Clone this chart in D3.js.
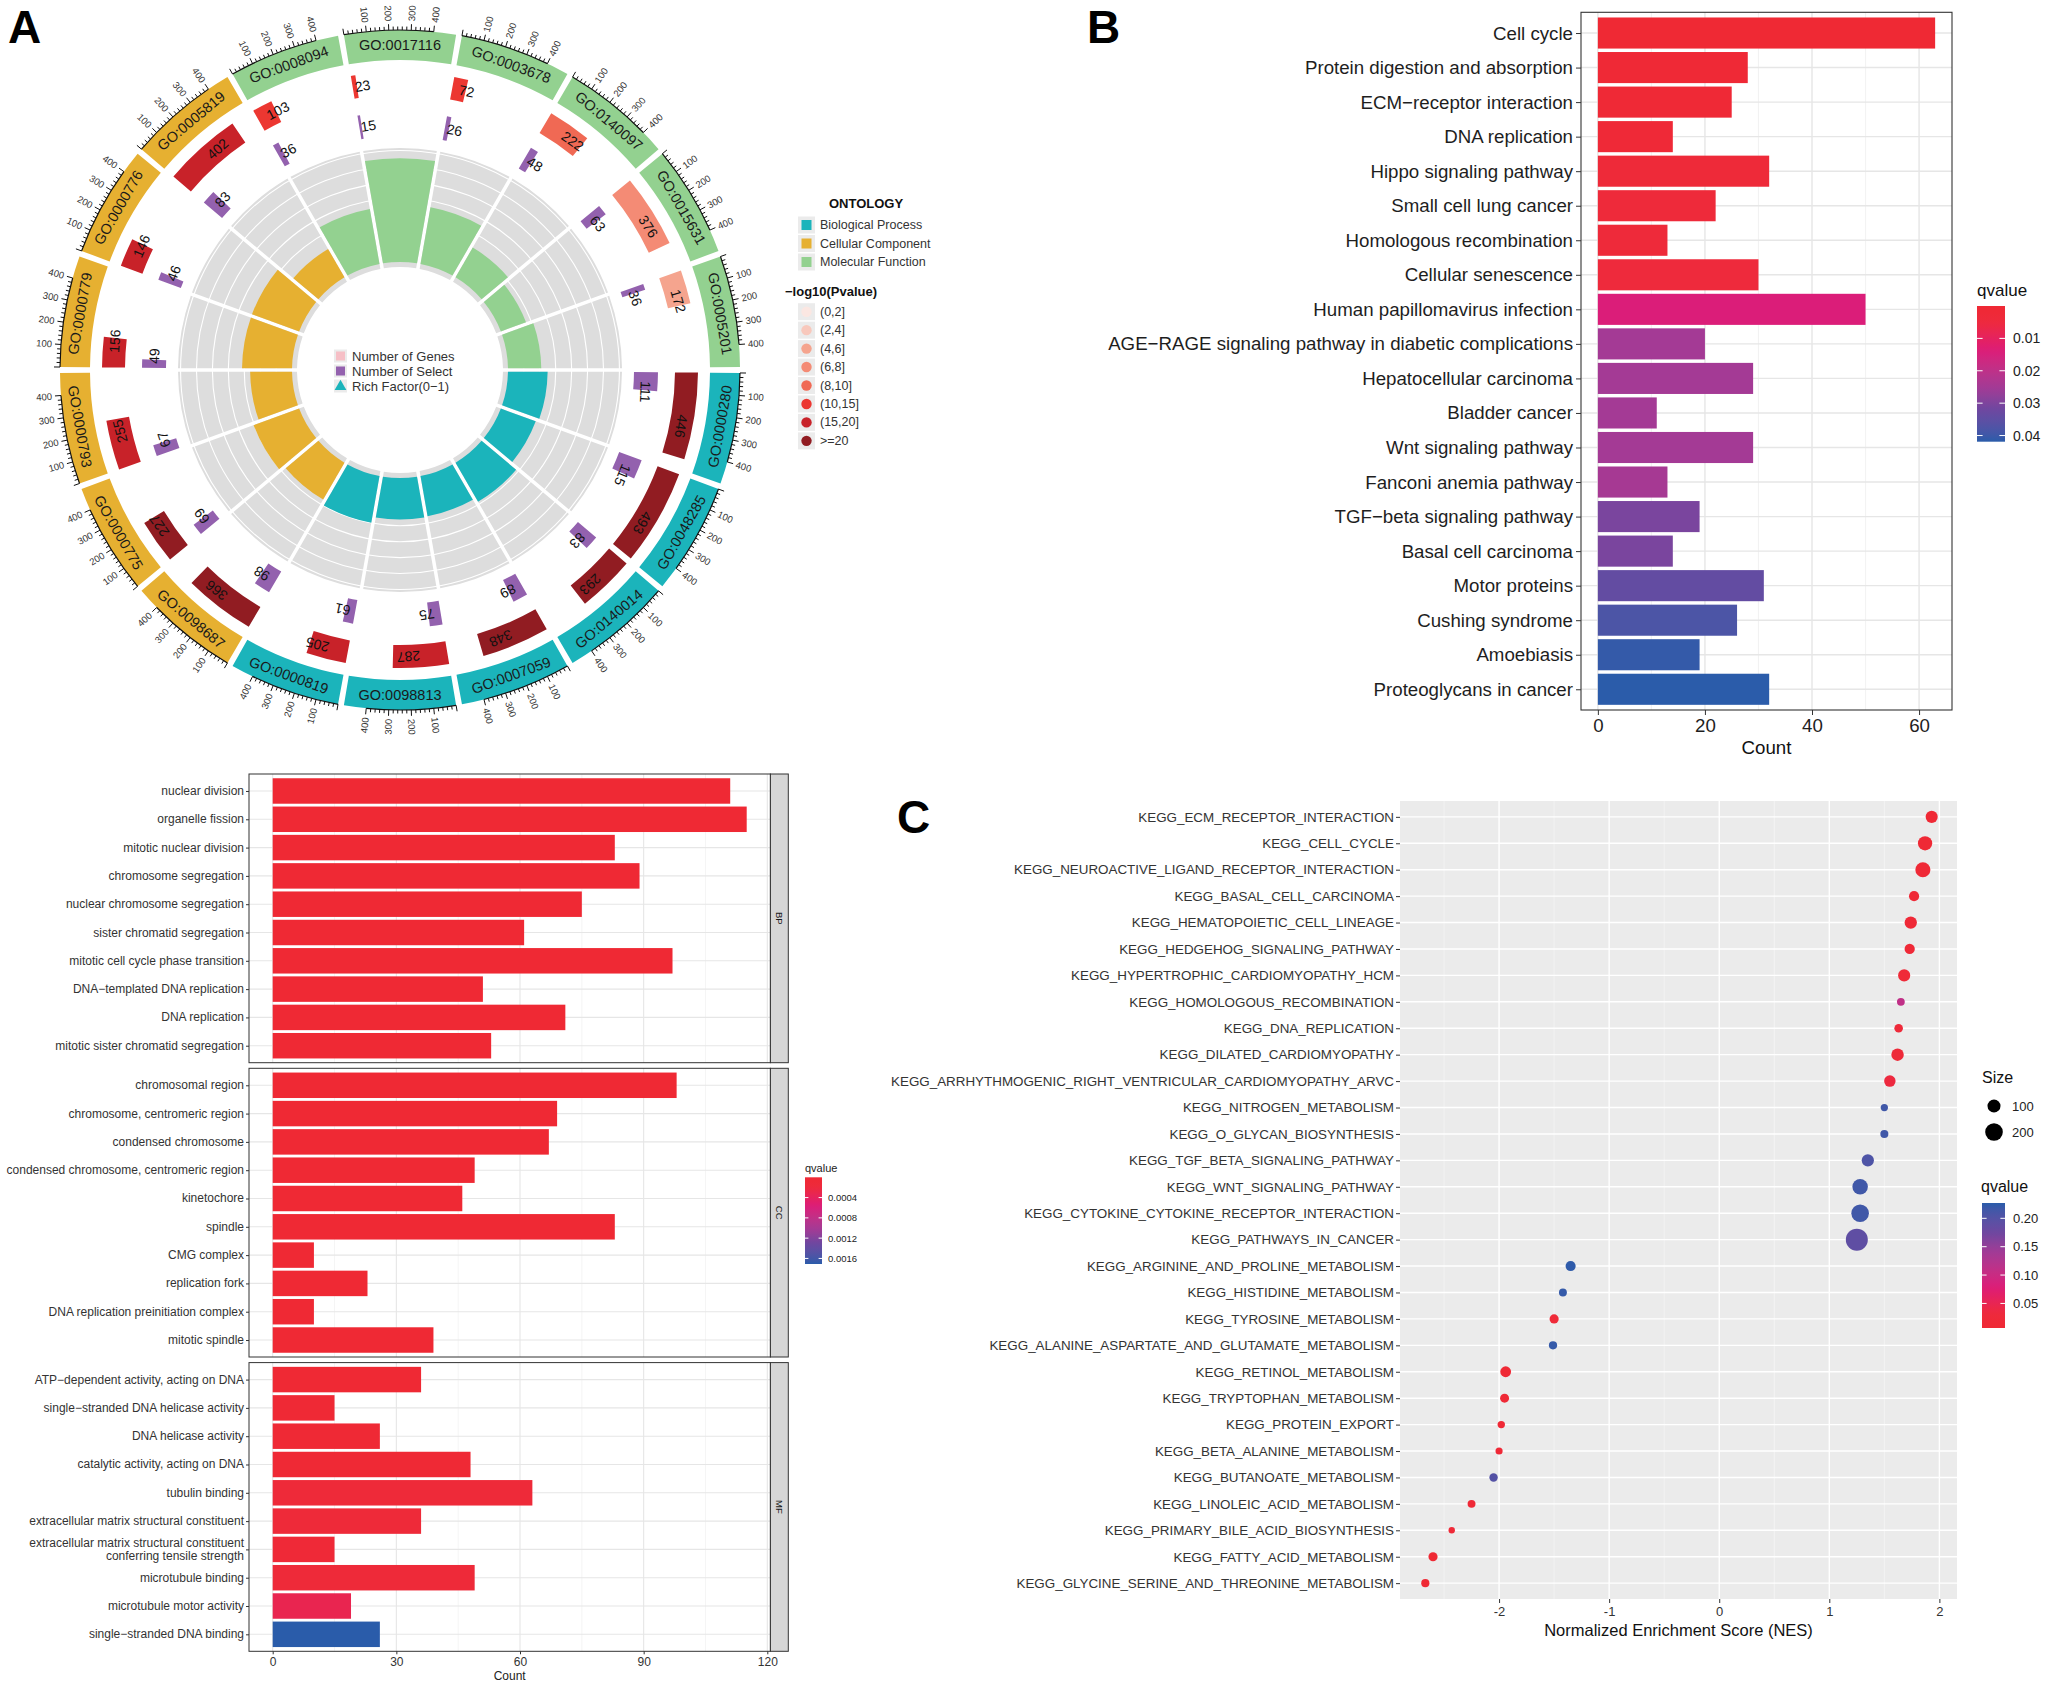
<!DOCTYPE html>
<html><head><meta charset="utf-8">
<script src="https://cdn.jsdelivr.net/npm/d3@7/dist/d3.min.js"></script>
<style>
html,body{margin:0;padding:0;background:#fff;}
svg{display:block;}
svg text{font-family:"Liberation Sans",Arial,Helvetica,sans-serif;}
</style></head>
<body>
<svg id="fig" width="2050" height="1689" viewBox="0 0 2050 1689"></svg>
<script>
// ================= DATA =================
// Panel A : GO circle (clockwise from top)
const goIds = ["GO:0017116","GO:0003678","GO:0140097","GO:0015631","GO:0005201","GO:0000280","GO:0048285","GO:0140014","GO:0007059","GO:0098813","GO:0000819","GO:0098687","GO:0000775","GO:0000793","GO:0000779","GO:0000776","GO:0005819","GO:0008094"];
const goOntology = ["Molecular Function","Molecular Function","Molecular Function","Molecular Function","Molecular Function","Biological Process","Biological Process","Biological Process","Biological Process","Biological Process","Biological Process","Cellular Component","Cellular Component","Cellular Component","Cellular Component","Cellular Component","Cellular Component","Molecular Function"];
const goGenes = [23,72,222,376,172,446,493,293,348,287,205,366,227,255,156,146,402,103];
const goSelect = [15,26,48,63,36,111,115,83,89,75,61,98,69,67,49,46,83,36];
const goRich = [0.652,0.361,0.216,0.168,0.209,0.249,0.233,0.283,0.256,0.261,0.298,0.268,0.304,0.263,0.314,0.315,0.206,0.350];
const goPvalBin = ["(10,15]","(10,15]","(8,10]","(6,8]","(4,6]",">=20",">=20",">=20",">=20","(15,20]","(15,20]",">=20",">=20","(15,20]","(15,20]","(15,20]","(15,20]","(10,15]"];
const ontologyLevels = ["Biological Process","Cellular Component","Molecular Function"];
const pvalLevels = ["(0,2]","(2,4]","(4,6]","(6,8]","(8,10]","(10,15]","(15,20]",">=20"];
const circleAxisTicks = [100,200,300,400];
const circleLegend = ["Number of Genes","Number of Select","Rich Factor(0\u22121)"];

// Panel B : KEGG bar
const keggTerms = ["Cell cycle","Protein digestion and absorption","ECM\u2212receptor interaction","DNA replication","Hippo signaling pathway","Small cell lung cancer","Homologous recombination","Cellular senescence","Human papillomavirus infection","AGE\u2212RAGE signaling pathway in diabetic complications","Hepatocellular carcinoma","Bladder cancer","Wnt signaling pathway","Fanconi anemia pathway","TGF\u2212beta signaling pathway","Basal cell carcinoma","Motor proteins","Cushing syndrome","Amoebiasis","Proteoglycans in cancer"];
const keggCount = [63,28,25,14,32,22,13,30,50,20,29,11,29,13,19,14,31,26,19,32];
const keggQ = [0.0001,0.001,0.001,0.002,0.003,0.004,0.004,0.005,0.014,0.025,0.025,0.025,0.025,0.0245,0.0305,0.0305,0.034,0.038,0.041,0.0418];
const keggXTicks = [0,20,40,60];
const keggQTicks = [0.01,0.02,0.03,0.04];

// Bottom-left : GO bar chart (facets)
const goBarFacets = ["BP","CC","MF"];
const goBarTerms = ["nuclear division","organelle fission","mitotic nuclear division","chromosome segregation","nuclear chromosome segregation","sister chromatid segregation","mitotic cell cycle phase transition","DNA\u2212templated DNA replication","DNA replication","mitotic sister chromatid segregation",
"chromosomal region","chromosome, centromeric region","condensed chromosome","condensed chromosome, centromeric region","kinetochore","spindle","CMG complex","replication fork","DNA replication preinitiation complex","mitotic spindle",
"ATP\u2212dependent activity, acting on DNA","single\u2212stranded DNA helicase activity","DNA helicase activity","catalytic activity, acting on DNA","tubulin binding","extracellular matrix structural constituent","extracellular matrix structural constituent\nconferring tensile strength","microtubule binding","microtubule motor activity","single\u2212stranded DNA binding"];
const goBarFacet = ["BP","BP","BP","BP","BP","BP","BP","BP","BP","BP","CC","CC","CC","CC","CC","CC","CC","CC","CC","CC","MF","MF","MF","MF","MF","MF","MF","MF","MF","MF"];
const goBarCount = [111,115,83,89,75,61,97,51,71,53, 98,69,67,49,46,83,10,23,10,39, 36,15,26,48,63,36,15,49,19,26];
const goBarQ = [0,0,0,0,0,0,0,0,0,0, 0,0,0,0,0,0,0,0,0,0, 0.00001,0.00002,0.00002,0.00002,0.00012,0.00012,0.00008,0.00012,0.00032,0.00171];
const goBarXTicks = [0,30,60,90,120];
const goBarQTicks = [0.0004,0.0008,0.0012,0.0016];

// Panel C : GSEA dot plot
const gseaTerms = ["KEGG_ECM_RECEPTOR_INTERACTION","KEGG_CELL_CYCLE","KEGG_NEUROACTIVE_LIGAND_RECEPTOR_INTERACTION","KEGG_BASAL_CELL_CARCINOMA","KEGG_HEMATOPOIETIC_CELL_LINEAGE","KEGG_HEDGEHOG_SIGNALING_PATHWAY","KEGG_HYPERTROPHIC_CARDIOMYOPATHY_HCM","KEGG_HOMOLOGOUS_RECOMBINATION","KEGG_DNA_REPLICATION","KEGG_DILATED_CARDIOMYOPATHY","KEGG_ARRHYTHMOGENIC_RIGHT_VENTRICULAR_CARDIOMYOPATHY_ARVC","KEGG_NITROGEN_METABOLISM","KEGG_O_GLYCAN_BIOSYNTHESIS","KEGG_TGF_BETA_SIGNALING_PATHWAY","KEGG_WNT_SIGNALING_PATHWAY","KEGG_CYTOKINE_CYTOKINE_RECEPTOR_INTERACTION","KEGG_PATHWAYS_IN_CANCER","KEGG_ARGININE_AND_PROLINE_METABOLISM","KEGG_HISTIDINE_METABOLISM","KEGG_TYROSINE_METABOLISM","KEGG_ALANINE_ASPARTATE_AND_GLUTAMATE_METABOLISM","KEGG_RETINOL_METABOLISM","KEGG_TRYPTOPHAN_METABOLISM","KEGG_PROTEIN_EXPORT","KEGG_BETA_ALANINE_METABOLISM","KEGG_BUTANOATE_METABOLISM","KEGG_LINOLEIC_ACID_METABOLISM","KEGG_PRIMARY_BILE_ACID_BIOSYNTHESIS","KEGG_FATTY_ACID_METABOLISM","KEGG_GLYCINE_SERINE_AND_THREONINE_METABOLISM"];
const gseaNES = [1.93,1.87,1.85,1.77,1.74,1.73,1.68,1.65,1.63,1.62,1.55,1.50,1.50,1.35,1.28,1.28,1.25,-1.35,-1.42,-1.50,-1.51,-1.94,-1.95,-1.98,-2.00,-2.05,-2.25,-2.43,-2.60,-2.67];
const gseaSize = [84,124,140,55,87,56,85,28,36,90,74,23,30,86,150,200,328,54,29,42,32,64,40,24,22,34,29,16,42,31];
const gseaQ = [0.010,0.010,0.012,0.015,0.015,0.018,0.020,0.110,0.025,0.022,0.035,0.215,0.215,0.205,0.215,0.215,0.190,0.225,0.222,0.020,0.222,0.010,0.012,0.012,0.015,0.200,0.015,0.020,0.008,0.008];
const gseaXTicks = [-2,-1,0,1,2];
const gseaSizeLegend = [100,200];
const gseaQTicks = [0.20,0.15,0.10,0.05];

// ================= HELPERS =================
const svg = d3.select("#fig");
svg.append("rect").attr("width",2050).attr("height",1689).attr("fill","#fff");
const defs = svg.append("defs");
const qStopColors = ["#EF2934","#EE2A3C","#DC1C79","#A33A95","#6E47A0","#2A5CAA"];
const qStopFrac = [0,0.12,0.33,0.6,0.76,1];
function qColor(lo,hi){
  return d3.scaleLinear().domain(qStopFrac.map(f=>lo+f*(hi-lo))).range(qStopColors).interpolate(d3.interpolateLab).clamp(true);
}
let gradN=0;
function colorbar(g,x,yTop,yBot,w,scale,vTop,vBot,ticks,fmt,fs,labX){
  const id="cb"+(gradN++);
  const grad=defs.append("linearGradient").attr("id",id).attr("x1",0).attr("y1",0).attr("x2",0).attr("y2",1);
  d3.range(0,1.0001,0.05).forEach(t=>grad.append("stop").attr("offset",t).attr("stop-color",scale(vTop+t*(vBot-vTop))));
  g.append("rect").attr("x",x).attr("y",yTop).attr("width",w).attr("height",yBot-yTop).attr("fill",`url(#${id})`);
  const ys=d3.scaleLinear().domain([vTop,vBot]).range([yTop,yBot]);
  ticks.forEach(v=>{
    const yy=ys(v);
    g.append("line").attr("x1",x).attr("x2",x+w/5).attr("y1",yy).attr("y2",yy).attr("stroke","#fff").attr("stroke-width",1);
    g.append("line").attr("x1",x+w-w/5).attr("x2",x+w).attr("y1",yy).attr("y2",yy).attr("stroke","#fff").attr("stroke-width",1);
    g.append("text").attr("x",labX).attr("y",yy).attr("dominant-baseline","central").attr("font-size",fs).attr("fill","#222").text(fmt(v));
  });
}
function styleAxis(ag,fs,col){
  ag.select(".domain").remove();
  ag.attr("font-family",null).attr("font-size",null);
  ag.selectAll(".tick line").attr("stroke","#333").attr("stroke-width",1);
  ag.selectAll(".tick text").attr("font-size",fs).attr("fill",col);
}

// Panel letters
const letters = svg.append("g").attr("font-weight","bold").attr("font-size",46).attr("fill","#000");
letters.append("text").attr("x",8).attr("y",43).text("A");
letters.append("text").attr("x",1087).attr("y",43).text("B");
letters.append("text").attr("x",897).attr("y",833).text("C");

// ================= PANEL A =================
(function(){
  const g = svg.append("g");
  const cx=400, cy=370, deg=Math.PI/180;
  const n=goIds.length, w=360/n;
  const secs = goIds.map((id,i)=>({id,i,ont:goOntology[i],genes:goGenes[i],sel:goSelect[i],rich:goRich[i],bin:goPvalBin[i],a0:(i*w-w/2)*deg,a1:(i*w+w/2)*deg,mid:i*w*deg}));
  const ontColor = d3.scaleOrdinal().domain(ontologyLevels).range(["#1BB4BB","#E6B031","#93D190"]);
  const pColor = d3.scaleOrdinal().domain(pvalLevels).range(["#FBE7E2","#F8C8BC","#F5A48E","#F48B75","#F06954","#EC3731","#C82229","#911C22"]);
  const gap = 1.0*deg;
  const vScale = s => d3.scaleLinear().domain([0,500]).range([s.a0+gap/2, s.a1-gap/2]);
  const rRich = d3.scaleLinear().domain([0,0.716]).range([108,222]);
  const T = `translate(${cx},${cy})`;
  const arc = d3.arc();
  const arcPad = d3.arc().padRadius(160);
  const pt=(r,a)=>[cx+r*Math.sin(a), cy-r*Math.cos(a)];
  const degOf=a=>{let t=(a/deg)%360; if(t<0)t+=360; return t;};

  // inner rich factor background
  const inner = g.append("g").attr("transform",T);
  inner.selectAll("path.bg").data(secs).join("path")
    .attr("d",s=>arcPad({innerRadius:103,outerRadius:222,startAngle:s.a0,endAngle:s.a1,padAngle:3.5/160}))
    .attr("fill","#DDDDDD");
  inner.selectAll("circle.grid").data(d3.range(0.1,0.71,0.1)).join("circle")
    .attr("r",v=>rRich(v)).attr("fill","none").attr("stroke","#fff").attr("stroke-width",1.1);
  inner.selectAll("path.rf").data(secs).join("path")
    .attr("d",s=>arcPad({innerRadius:108,outerRadius:rRich(s.rich),startAngle:s.a0,endAngle:s.a1,padAngle:3.5/160}))
    .attr("fill",s=>ontColor(s.ont));

  // outer GO ring
  const ring = g.append("g").attr("transform",T);
  ring.selectAll("path").data(secs).join("path")
    .attr("d",s=>arc({innerRadius:310,outerRadius:340,startAngle:s.a0+gap/2,endAngle:s.a1-gap/2}))
    .attr("fill",s=>ontColor(s.ont));
  secs.forEach(s=>{
    const [x,y]=pt(325,s.mid); const th=degOf(s.mid);
    const rot=(th>90&&th<270)?th-180:th;
    g.append("text").attr("transform",`translate(${x},${y}) rotate(${rot})`).attr("text-anchor","middle")
      .attr("dominant-baseline","central").attr("font-size",14.5).attr("fill","#1a1a1a").text(s.id);
  });

  // axis ticks on ring
  secs.forEach(s=>{
    const vs=vScale(s);
    const p=d3.path(); p.arc(cx,cy,340,vs(0)-Math.PI/2,vs(400)-Math.PI/2);
    g.append("path").attr("d",p.toString()).attr("fill","none").attr("stroke","#111").attr("stroke-width",1.2);
    d3.range(0,401,20).forEach(v=>{
      const a=vs(v), len=v%100===0?6:3.5;
      const [x1,y1]=pt(340,a),[x2,y2]=pt(340+len,a);
      g.append("line").attr("x1",x1).attr("y1",y1).attr("x2",x2).attr("y2",y2).attr("stroke","#111").attr("stroke-width",1);
    });
    circleAxisTicks.forEach(v=>{
      const a=vs(v), th=degOf(a), [x,y]=pt(349,a), flip=th>180;
      g.append("text").attr("transform",`translate(${x},${y}) rotate(${flip?th-270:th-90})`)
        .attr("text-anchor",flip?"end":"start").attr("dominant-baseline","central")
        .attr("font-size",9.5).attr("fill","#333").text(v);
    });
  });

  // gene count ring
  const r2 = g.append("g").attr("transform",T);
  r2.selectAll("path").data(secs).join("path")
    .attr("d",s=>{const vs=vScale(s);return arc({innerRadius:275,outerRadius:298,startAngle:vs(0),endAngle:vs(s.genes)});})
    .attr("fill",s=>pColor(s.bin));
  // select ring
  const r3 = g.append("g").attr("transform",T);
  r3.selectAll("path").data(secs).join("path")
    .attr("d",s=>{const vs=vScale(s);return arc({innerRadius:234,outerRadius:258,startAngle:vs(0),endAngle:vs(s.sel)});})
    .attr("fill","#9361AE");
  // number labels
  secs.forEach(s=>{
    const vs=vScale(s);
    [[s.genes,286.5],[s.sel,246]].forEach(([v,r])=>{
      const a=(vs(0)+vs(v))/2, th=degOf(a), [x,y]=pt(r,a);
      g.append("text").attr("transform",`translate(${x},${y}) rotate(${th})`).attr("text-anchor","start")
        .attr("dominant-baseline","central").attr("font-size",14).attr("fill","#111").text(v);
    });
  });

  // hole legend
  const hl = g.append("g");
  circleLegend.forEach((t,i)=>{
    const yy=356+i*15;
    hl.append("rect").attr("x",334).attr("y",yy-6.5).attr("width",13).attr("height",13).attr("fill","#EBEBEB");
    if(i===0) hl.append("rect").attr("x",336).attr("y",yy-4.5).attr("width",9).attr("height",9).attr("fill","#F6BFC6");
    if(i===1) hl.append("rect").attr("x",336).attr("y",yy-4.5).attr("width",9).attr("height",9).attr("fill","#9361AE");
    if(i===2) hl.append("path").attr("d",d3.symbol(d3.symbolTriangle,60)()).attr("transform",`translate(340.5,${yy+0.5})`).attr("fill","#1BB4BB");
    hl.append("text").attr("x",352).attr("y",yy).attr("dominant-baseline","central").attr("font-size",13).attr("fill","#333").text(t);
  });

  // right legends
  const lg = g.append("g");
  lg.append("text").attr("x",829).attr("y",203).attr("dominant-baseline","central").attr("font-size",13).attr("font-weight","bold").attr("fill","#111").text("ONTOLOGY");
  ontologyLevels.forEach((t,i)=>{
    const yy=225+i*18.5;
    lg.append("rect").attr("x",798).attr("y",yy-8.5).attr("width",17).attr("height",17).attr("fill","#EBEBEB");
    lg.append("rect").attr("x",801.5).attr("y",yy-5).attr("width",10).attr("height",10).attr("fill",ontColor(t));
    lg.append("text").attr("x",820).attr("y",yy).attr("dominant-baseline","central").attr("font-size",12.5).attr("fill","#333").text(t);
  });
  lg.append("text").attr("x",785).attr("y",291).attr("dominant-baseline","central").attr("font-size",13).attr("font-weight","bold").attr("fill","#111").text("\u2212log10(Pvalue)");
  pvalLevels.forEach((t,i)=>{
    const yy=311.7+i*18.45;
    lg.append("rect").attr("x",798).attr("y",yy-8.5).attr("width",17).attr("height",17).attr("fill","#EBEBEB");
    lg.append("circle").attr("cx",806.5).attr("cy",yy).attr("r",5.2).attr("fill",pColor(t));
    lg.append("text").attr("x",820).attr("y",yy).attr("dominant-baseline","central").attr("font-size",12.5).attr("fill","#333").text(t);
  });
})();

// ================= PANEL B =================
(function(){
  const g=svg.append("g");
  const L=1581,R=1952,Tp=12.3,Bt=710;
  const x=d3.scaleLinear().domain([-3.15,66.15]).range([L,R]);
  const y=d3.scalePoint().domain(keggTerms).range([Tp,Bt]).padding(0.6);
  const st=y.step();
  const col=qColor(0,0.0419);
  [10,30,50].forEach(v=>g.append("line").attr("x1",x(v)).attr("x2",x(v)).attr("y1",Tp).attr("y2",Bt).attr("stroke","#EFEFEF").attr("stroke-width",0.8));
  keggXTicks.forEach(v=>g.append("line").attr("x1",x(v)).attr("x2",x(v)).attr("y1",Tp).attr("y2",Bt).attr("stroke","#E6E6E6").attr("stroke-width",1.4));
  keggTerms.forEach(t=>g.append("line").attr("x1",L).attr("x2",R).attr("y1",y(t)).attr("y2",y(t)).attr("stroke","#E6E6E6").attr("stroke-width",1.4));
  g.selectAll("rect.bar").data(keggTerms).join("rect")
    .attr("x",x(0)).attr("y",t=>y(t)-0.45*st).attr("height",0.9*st)
    .attr("width",(t,i)=>x(keggCount[i])-x(0)).attr("fill",(t,i)=>col(keggQ[i]));
  g.append("rect").attr("x",L).attr("y",Tp).attr("width",R-L).attr("height",Bt-Tp).attr("fill","none").attr("stroke","#333").attr("stroke-width",1.1);
  const ya=g.append("g").attr("transform",`translate(${L},0)`).call(d3.axisLeft(y).tickSize(5).tickPadding(3));
  styleAxis(ya,18.7,"#1e1e1e");
  const xa=g.append("g").attr("transform",`translate(0,${Bt})`).call(d3.axisBottom(x).tickValues(keggXTicks).tickSize(5).tickPadding(4));
  styleAxis(xa,18.7,"#1e1e1e");
  g.append("text").attr("x",(L+R)/2).attr("y",747).attr("text-anchor","middle").attr("dominant-baseline","central").attr("font-size",18.7).attr("fill","#111").text("Count");
  g.append("text").attr("x",1977).attr("y",290).attr("dominant-baseline","central").attr("font-size",17).attr("fill","#111").text("qvalue");
  colorbar(g,1977,306,441.7,28,col,0,0.0419,keggQTicks,d3.format(".2f"),14,2013);
})();

// ================= GO BAR (bottom-left) =================
(function(){
  const g=svg.append("g");
  const L=249,R=770.4,panelH=288.7,gapP=5.6,top0=774;
  const x=d3.scaleLinear().domain([-5.75,120.75]).range([L,R]);
  const col=qColor(0,0.00171);
  goBarFacets.forEach((f,k)=>{
    const Tp=top0+k*(panelH+gapP), Bt=Tp+panelH;
    const idx=goBarTerms.map((t,i)=>i).filter(i=>goBarFacet[i]===f);
    const terms=idx.map(i=>goBarTerms[i]);
    const y=d3.scalePoint().domain(terms).range([Tp,Bt]).padding(0.6);
    const st=y.step();
    [15,45,75,105].forEach(v=>g.append("line").attr("x1",x(v)).attr("x2",x(v)).attr("y1",Tp).attr("y2",Bt).attr("stroke","#F0F0F0").attr("stroke-width",0.7));
    goBarXTicks.forEach(v=>g.append("line").attr("x1",x(v)).attr("x2",x(v)).attr("y1",Tp).attr("y2",Bt).attr("stroke","#E6E6E6").attr("stroke-width",1.1));
    terms.forEach(t=>g.append("line").attr("x1",L).attr("x2",R).attr("y1",y(t)).attr("y2",y(t)).attr("stroke","#E6E6E6").attr("stroke-width",1.1));
    g.append("g").selectAll("rect").data(idx).join("rect")
      .attr("x",x(0)).attr("y",i=>y(goBarTerms[i])-0.45*st).attr("height",0.9*st)
      .attr("width",i=>x(goBarCount[i])-x(0)).attr("fill",i=>col(goBarQ[i]));
    g.append("rect").attr("x",L).attr("y",Tp).attr("width",R-L).attr("height",panelH).attr("fill","none").attr("stroke","#333").attr("stroke-width",1);
    // strip
    g.append("rect").attr("x",R).attr("y",Tp).attr("width",17.9).attr("height",panelH).attr("fill","#D6D6D6").attr("stroke","#333").attr("stroke-width",1);
    g.append("text").attr("transform",`translate(${R+9},${(Tp+Bt)/2}) rotate(90)`).attr("text-anchor","middle").attr("dominant-baseline","central").attr("font-size",9.5).attr("fill","#1a1a1a").text(f);
    // y axis
    const ya=g.append("g").attr("transform",`translate(${L},0)`).call(d3.axisLeft(y).tickSize(3).tickPadding(2).tickFormat(()=>""));
    styleAxis(ya,12,"#333");
    terms.forEach(t=>{
      const lines=t.split("\n");
      const tx=g.append("text").attr("x",L-5).attr("y",y(t)).attr("text-anchor","end").attr("font-size",12).attr("fill","#333");
      lines.forEach((ln,j)=>tx.append("tspan").attr("x",L-5).attr("y",y(t)+(j-(lines.length-1)/2)*13.4).attr("dominant-baseline","central").text(ln));
    });
    if(k===goBarFacets.length-1){
      const xa=g.append("g").attr("transform",`translate(0,${Bt})`).call(d3.axisBottom(x).tickValues(goBarXTicks).tickSize(3).tickPadding(3.5));
      styleAxis(xa,12,"#333");
      g.append("text").attr("x",(L+R)/2).attr("y",1676).attr("text-anchor","middle").attr("dominant-baseline","central").attr("font-size",12).attr("fill","#222").text("Count");
    }
  });
  g.append("text").attr("x",805).attr("y",1168).attr("dominant-baseline","central").attr("font-size",11).attr("fill","#222").text("qvalue");
  colorbar(g,805,1177.3,1264,17,col,0,0.00171,goBarQTicks,d3.format(".4f"),9.5,828);
})();

// ================= PANEL C =================
(function(){
  const g=svg.append("g");
  const L=1400,R=1957,Tp=801,Bt=1599;
  const x=d3.scaleLinear().domain([-2.9,2.16]).range([L,R]);
  const y=d3.scalePoint().domain(gseaTerms).range([Tp,Bt]).padding(0.6);
  const col=qColor(0.0067,0.227);
  const rS=d3.scalePow().exponent(0.5).domain([16,328]).range([3.2,11]);
  g.append("rect").attr("x",L).attr("y",Tp).attr("width",R-L).attr("height",Bt-Tp).attr("fill","#EBEBEB");
  [-2.5,-1.5,-0.5,0.5,1.5].forEach(v=>g.append("line").attr("x1",x(v)).attr("x2",x(v)).attr("y1",Tp).attr("y2",Bt).attr("stroke","#F7F7F7").attr("stroke-width",0.7));
  gseaXTicks.forEach(v=>g.append("line").attr("x1",x(v)).attr("x2",x(v)).attr("y1",Tp).attr("y2",Bt).attr("stroke","#fff").attr("stroke-width",1.4));
  gseaTerms.forEach(t=>g.append("line").attr("x1",L).attr("x2",R).attr("y1",y(t)).attr("y2",y(t)).attr("stroke","#fff").attr("stroke-width",1.4));
  g.selectAll("circle.pt").data(gseaTerms).join("circle")
    .attr("cx",(t,i)=>x(gseaNES[i])).attr("cy",t=>y(t)).attr("r",(t,i)=>rS(gseaSize[i])).attr("fill",(t,i)=>col(gseaQ[i]));
  const ya=g.append("g").attr("transform",`translate(${L},0)`).call(d3.axisLeft(y).tickSize(4).tickPadding(2));
  styleAxis(ya,13.4,"#333");
  const xa=g.append("g").attr("transform",`translate(0,${Bt})`).call(d3.axisBottom(x).tickValues(gseaXTicks).tickSize(4).tickPadding(3.5).tickFormat(d=>String(d)));
  styleAxis(xa,13,"#333");
  g.append("text").attr("x",(L+R)/2).attr("y",1630).attr("text-anchor","middle").attr("dominant-baseline","central").attr("font-size",16.5).attr("fill","#111").text("Normalized Enrichment Score (NES)");
  // size legend
  g.append("text").attr("x",1982).attr("y",1077).attr("dominant-baseline","central").attr("font-size",16).attr("fill","#111").text("Size");
  gseaSizeLegend.forEach((v,i)=>{
    const yy=1106+i*26;
    g.append("circle").attr("cx",1994).attr("cy",yy).attr("r",rS(v)).attr("fill","#000");
    g.append("text").attr("x",2012).attr("y",yy).attr("dominant-baseline","central").attr("font-size",13).attr("fill","#222").text(v);
  });
  g.append("text").attr("x",1981).attr("y",1186).attr("dominant-baseline","central").attr("font-size",16).attr("fill","#111").text("qvalue");
  colorbar(g,1982,1203,1328,23,col,0.227,0.0067,gseaQTicks,d3.format(".2f"),13,2013);
})();
</script>
</body></html>
